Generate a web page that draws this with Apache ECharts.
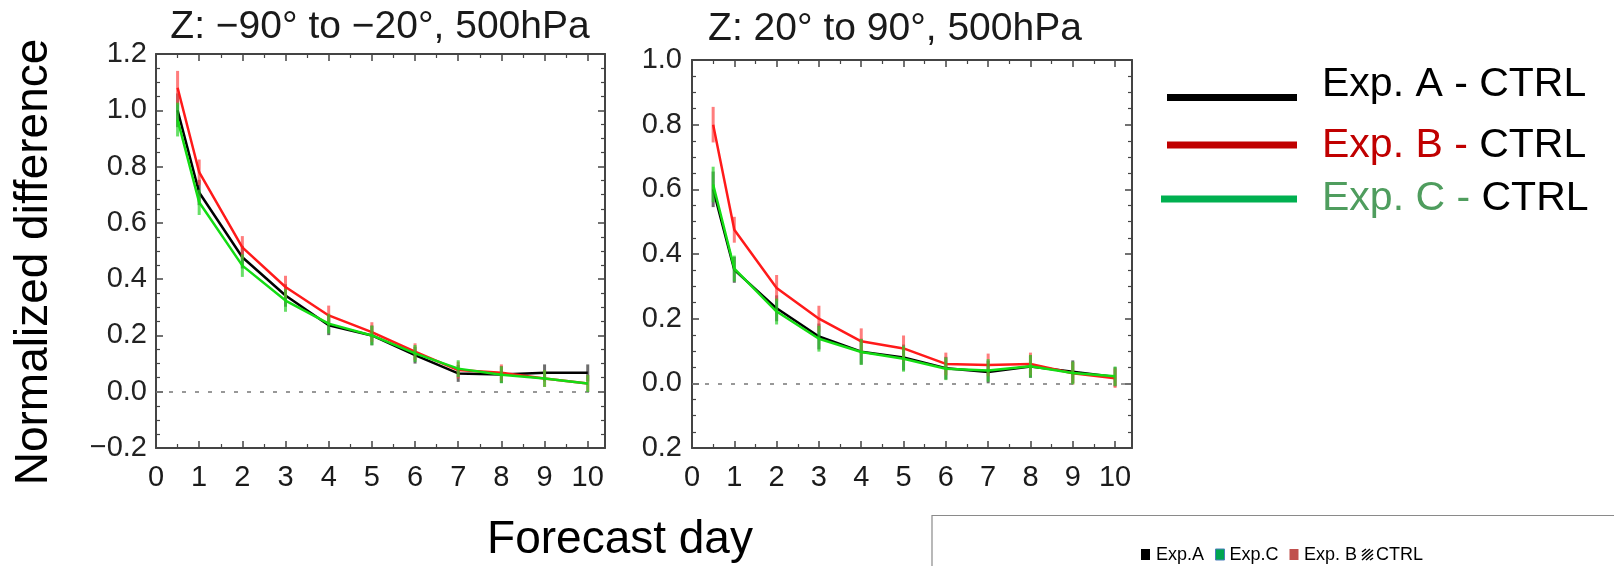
<!DOCTYPE html>
<html><head><meta charset="utf-8">
<script src="https://cdn.jsdelivr.net/npm/echarts@6/dist/echarts.min.js"></script>
<style>html,body{margin:0;padding:0;background:#fff}#c{width:1614px;height:566px}</style>
</head><body><div id="c"></div>
<script>
// ---------- data ----------
const days = [0.5, 1, 2, 3, 4, 5, 6, 7, 8, 9, 10];
const xTickLabels = ['0','1','2','3','4','5','6','7','8','9','10'];
const yTickLabelsSouth = ['\u22120.2','0.0','0.2','0.4','0.6','0.8','1.0','1.2'];
const yTickLabelsNorth = ['0.2','0.0','0.2','0.4','0.6','0.8','1.0'];
const panelTitles = ['Z: \u221290\u00b0 to \u221220\u00b0, 500hPa', 'Z: 20\u00b0 to 90\u00b0, 500hPa'];

// Southern panel (-90 to -20)
const southA = [1.00, 0.708, 0.478, 0.342, 0.236, 0.200, 0.130, 0.065, 0.061, 0.067, 0.067];
const southB = [1.08, 0.780, 0.513, 0.372, 0.271, 0.212, 0.142, 0.077, 0.067, 0.047, 0.029];
const southC = [0.967, 0.673, 0.448, 0.324, 0.242, 0.200, 0.136, 0.082, 0.060, 0.047, 0.029];
const southErr = [0.06, 0.045, 0.04, 0.04, 0.035, 0.035, 0.03, 0.03, 0.03, 0.03, 0.03];

// Northern panel (20 to 90)
const northA = [0.600, 0.351, 0.232, 0.145, 0.098, 0.080, 0.047, 0.035, 0.052, 0.036, 0.020];
const northB = [0.800, 0.475, 0.295, 0.200, 0.130, 0.108, 0.060, 0.057, 0.060, 0.031, 0.016];
const northC = [0.615, 0.355, 0.222, 0.138, 0.097, 0.076, 0.045, 0.040, 0.053, 0.032, 0.022];
const northErr = [0.055, 0.04, 0.04, 0.04, 0.04, 0.04, 0.035, 0.035, 0.035, 0.035, 0.03];

const seriesNames = ['Exp. A - CTRL', 'Exp. B - CTRL', 'Exp. C - CTRL'];
const boxLegendLabels = ['Exp.A', 'Exp.C', 'Exp. B', 'CTRL'];

// ---------- styling ----------
const FONT = '"Liberation Sans", Arial, Helvetica, sans-serif';
const lineColors = ['#000000', '#ff1a1a', '#14dc14'];
const errColors = ['rgba(60,60,60,0.75)', 'rgba(255,70,70,0.7)', 'rgba(40,210,40,0.7)'];
const axisColor = '#444';

function xAxes(gi) {
  const base = {
    type: 'value', gridIndex: gi, min: 0, max: 10.4, interval: 1,
    axisLine: { show: true, onZero: false, lineStyle: { color: axisColor, width: 2 } },
    axisTick: { show: true, inside: true, length: 7, lineStyle: { color: axisColor, width: 1.5 } },
    minorTick: { show: true, splitNumber: 2, length: 4, lineStyle: { color: axisColor, width: 1.2 } },
    splitLine: { show: false }
  };
  return [
    Object.assign({}, base, { position: 'bottom',
      axisLabel: { show: true, margin: 15, fontSize: 29, color: '#1a1a1a', fontFamily: FONT,
        formatter: v => (Math.abs(v - Math.round(v)) < 1e-6 && v <= 10) ? xTickLabels[Math.round(v)] : '' } }),
    Object.assign({}, base, { position: 'top', axisLabel: { show: false } })
  ];
}
function yAxes(gi, max, labels, margin) {
  const base = {
    type: 'value', gridIndex: gi, min: -0.2, max: max, interval: 0.2,
    axisLine: { show: true, onZero: false, lineStyle: { color: axisColor, width: 2 } },
    axisTick: { show: true, inside: true, length: 7, lineStyle: { color: axisColor, width: 1.5 } },
    minorTick: { show: true, splitNumber: 4, length: 4, lineStyle: { color: axisColor, width: 1.2 } },
    splitLine: { show: false }
  };
  return [
    Object.assign({}, base, { position: 'left',
      axisLabel: { show: true, margin: margin, fontSize: 29, color: '#222', fontFamily: FONT,
        formatter: v => labels[Math.round((v + 0.2) / 0.2)] } }),
    Object.assign({}, base, { position: 'right', axisLabel: { show: false } })
  ];
}

function panelSeries(xi, yi, vals, err) {
  const out = [];
  vals.forEach((arr, k) => {
    const s = {
      name: seriesNames[k], type: 'line', xAxisIndex: xi, yAxisIndex: yi,
      data: days.map((d, i) => [d, arr[i]]),
      showSymbol: false, symbol: 'none', z: 3 + k,
      lineStyle: { color: lineColors[k], width: 2.5 }, itemStyle: { color: lineColors[k] }
    };
    if (k === 0) {
      s.markLine = { silent: true, symbol: ['none', 'none'], label: { show: false },
        lineStyle: { color: '#777', type: [4, 9], width: 1.5 }, data: [{ yAxis: 0 }] };
    }
    out.push(s);
    out.push({
      type: 'custom', xAxisIndex: xi, yAxisIndex: yi, z: 3 + k,
      data: days.map((d, i) => [d, arr[i], err[i]]),
      renderItem: function (params, api) {
        const x = api.value(0), y = api.value(1), e = api.value(2);
        const p1 = api.coord([x, y + e]);
        const p2 = api.coord([x, y - e]);
        return { type: 'line', shape: { x1: p1[0], y1: p1[1], x2: p2[0], y2: p2[1] },
          style: { stroke: errColors[k], lineWidth: 3 } };
      }
    });
  });
  return out;
}

const xa = xAxes(0).concat(xAxes(1));
const ya = yAxes(0, 1.2, yTickLabelsSouth, 9).concat(yAxes(1, 1.0, yTickLabelsNorth, 10));

const graphics = [
  { type: 'text', x: 380, y: 27, style: { text: panelTitles[0], font: '39px ' + FONT, fill: '#1a1a1a', align: 'center', verticalAlign: 'middle' } },
  { type: 'text', x: 895, y: 29, style: { text: panelTitles[1], font: '39px ' + FONT, fill: '#1a1a1a', align: 'center', verticalAlign: 'middle' } },
  { type: 'text', x: 34, y: 262, rotation: Math.PI / 2, style: { text: 'Normalized difference', font: '46px ' + FONT, fill: '#000', align: 'center', verticalAlign: 'middle' } },
  { type: 'text', x: 620, y: 540, style: { text: 'Forecast day', font: '46px ' + FONT, fill: '#000', align: 'center', verticalAlign: 'middle' } },
  // right-side legend
  { type: 'line', shape: { x1: 1167, y1: 97.5, x2: 1297, y2: 97.5 }, style: { stroke: '#000', lineWidth: 7 } },
  { type: 'line', shape: { x1: 1167, y1: 145, x2: 1297, y2: 145 }, style: { stroke: '#c00000', lineWidth: 7 } },
  { type: 'line', shape: { x1: 1161, y1: 199, x2: 1297, y2: 199 }, style: { stroke: '#00b050', lineWidth: 7 } },
  { type: 'text', x: 1322, y: 85, style: { text: seriesNames[0], font: '41px ' + FONT, fill: '#000', align: 'left', verticalAlign: 'middle' } },
  { type: 'text', x: 1322, y: 146, style: { text: '{r|Exp. B -} {k|CTRL}', font: '41px ' + FONT, fill: '#000', align: 'left', verticalAlign: 'middle',
      rich: { r: { fill: '#c00000', font: '41px ' + FONT }, k: { fill: '#000', font: '41px ' + FONT } } } },
  { type: 'text', x: 1322, y: 198.5, style: { text: '{g|Exp. C -} {k|CTRL}', font: '41px ' + FONT, fill: '#000', align: 'left', verticalAlign: 'middle',
      rich: { g: { fill: '#4f9d5e', font: '41px ' + FONT }, k: { fill: '#000', font: '41px ' + FONT } } } },
  // bottom-right box legend
  { type: 'rect', shape: { x: 932, y: 515.5, width: 700, height: 80 }, style: { fill: '#fff', stroke: '#8a8a8a', lineWidth: 1.2 } },
  { type: 'rect', shape: { x: 1141, y: 549, width: 9, height: 11 }, style: { fill: '#000' } },
  { type: 'text', x: 1156, y: 555, style: { text: boxLegendLabels[0], font: '18px "Liberation Sans Narrow", ' + FONT, fill: '#000', align: 'left', verticalAlign: 'middle' } },
  { type: 'rect', shape: { x: 1215.5, y: 549, width: 9, height: 11 }, style: { fill: '#00a650', stroke: '#4a7ebb', lineWidth: 1 } },
  { type: 'text', x: 1229.5, y: 555, style: { text: boxLegendLabels[1], font: '18px "Liberation Sans Narrow", ' + FONT, fill: '#000', align: 'left', verticalAlign: 'middle' } },
  { type: 'rect', shape: { x: 1289.5, y: 549, width: 9, height: 11 }, style: { fill: '#c0504d' } },
  { type: 'text', x: 1304, y: 555, style: { text: boxLegendLabels[2], font: '18px "Liberation Sans Narrow", ' + FONT, fill: '#000', align: 'left', verticalAlign: 'middle' } },
  { type: 'line', shape: { x1: 1362, y1: 552, x2: 1366, y2: 549 }, style: { stroke: '#000', lineWidth: 1.5 } },
  { type: 'line', shape: { x1: 1362, y1: 556, x2: 1370, y2: 549 }, style: { stroke: '#000', lineWidth: 1.5 } },
  { type: 'line', shape: { x1: 1362, y1: 560, x2: 1373, y2: 550 }, style: { stroke: '#000', lineWidth: 1.5 } },
  { type: 'line', shape: { x1: 1366, y1: 560, x2: 1373, y2: 554 }, style: { stroke: '#000', lineWidth: 1.5 } },
  { type: 'line', shape: { x1: 1370, y1: 560, x2: 1373, y2: 558 }, style: { stroke: '#000', lineWidth: 1.5 } },
  { type: 'text', x: 1376, y: 555, style: { text: boxLegendLabels[3], font: '18px "Liberation Sans Narrow", ' + FONT, fill: '#000', align: 'left', verticalAlign: 'middle' } }
];

const option = {
  animation: false,
  backgroundColor: '#fff',
  grid: [
    { left: 156, top: 54, width: 449, height: 394, outerBoundsMode: 'none', containLabel: false },
    { left: 692, top: 60, width: 440, height: 388, outerBoundsMode: 'none', containLabel: false }
  ],
  xAxis: xa,
  yAxis: ya,
  series: panelSeries(0, 0, [southA, southB, southC], southErr)
    .concat(panelSeries(2, 2, [northA, northB, northC], northErr)),
  graphic: graphics
};

const chart = echarts.init(document.getElementById('c'), null, { renderer: 'canvas' });
chart.setOption(option);
</script>
</body></html>
